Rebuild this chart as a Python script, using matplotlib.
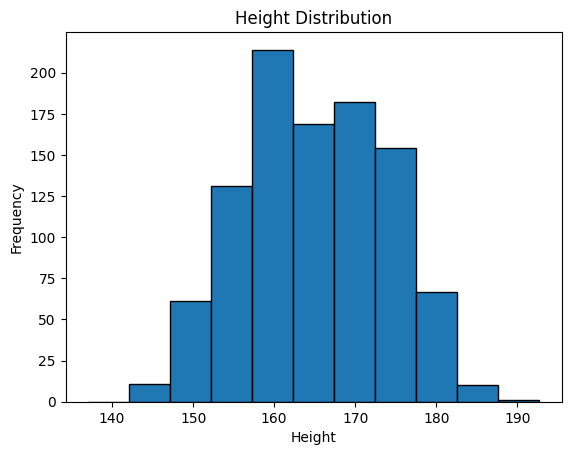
import numpy as np
from matplotlib import pyplot as plt

# bin edges and counts
bin_edges = np.linspace(137.05, 192.7, 12)
counts = [0, 11, 61, 131, 214, 169, 182, 154, 67, 10, 1]

centers = (bin_edges[:-1] + bin_edges[1:]) / 2

fig, ax = plt.subplots(figsize=(6.4, 4.8))
ax.hist(centers, bins=bin_edges, weights=counts, edgecolor='black')
ax.set_title('Height Distribution')
ax.set_xlabel('Height')
ax.set_ylabel('Frequency')

fig.savefig('out.png', bbox_inches='tight')
